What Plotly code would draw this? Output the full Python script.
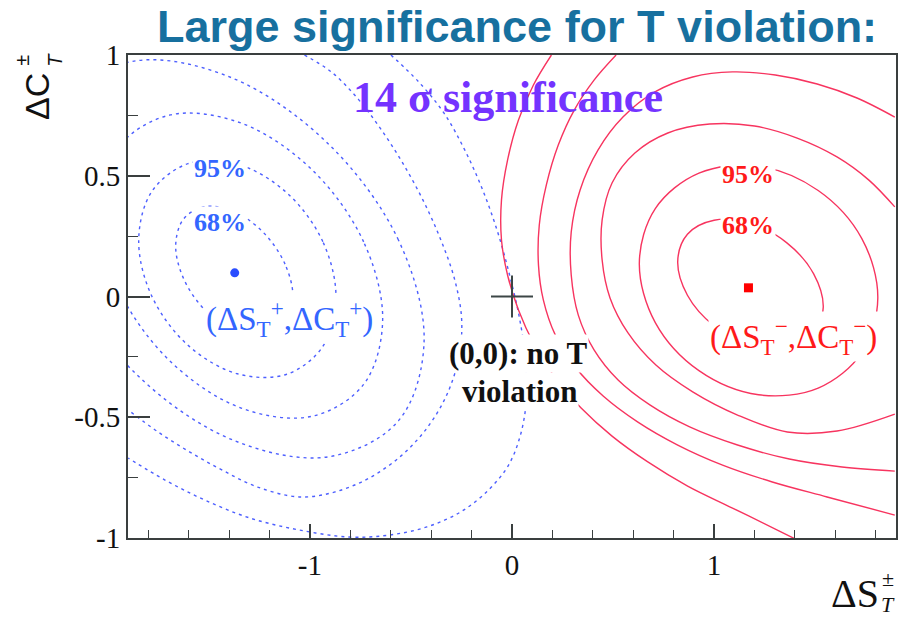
import plotly.graph_objects as go

# ---- axes -------------------------------------------------------------
X_RANGE = [-1.9, 1.9]
Y_RANGE = [-1.0, 1.0]
X_TICKS = [-1, 0, 1]
X_TICK_TEXT = ["-1", "0", "1"]
Y_TICKS = [-1, -0.5, 0, 0.5, 1]
Y_TICK_TEXT = ["-1", "-0.5", "0", "0.5", "1"]

# ---- best-fit points --------------------------------------------------
PLUS_FIT_X = [-1.372]
PLUS_FIT_Y = [0.098]
MINUS_FIT_X = [1.170]
MINUS_FIT_Y = [0.036]
NO_VIOLATION_X = [0.0]
NO_VIOLATION_Y = [0.0]

# ---- likelihood contours for (dS_T+, dC_T+), inner to outer -----------
PLUS_68_X = [-1.084, -1.123, -1.229, -1.374, -1.519, -1.625, -1.664, -1.625, -1.519, -1.374, -1.229, -1.123, -1.084]
PLUS_68_Y = [-0.004, 0.134, 0.264, 0.351, 0.372, 0.321, 0.212, 0.074, -0.056, -0.143, -0.164, -0.113, -0.004]
PLUS_95_X = [-0.871, -0.936, -1.115, -1.359, -1.603, -1.782, -1.847, -1.782, -1.603, -1.359, -1.115, -0.936, -0.871]
PLUS_95_Y = [-0.006, 0.227, 0.430, 0.548, 0.550, 0.435, 0.234, 0.001, -0.202, -0.320, -0.322, -0.207, -0.006]
PLUS_C3_X = [-0.640, -0.734, -0.990, -1.340, -1.690, -1.946, -2.040, -1.946, -1.690, -1.340, -0.990, -0.734, -0.640]
PLUS_C3_Y = [-0.100, 0.226, 0.525, 0.718, 0.752, 0.620, 0.356, 0.030, -0.269, -0.462, -0.496, -0.364, -0.100]
PLUS_C4_X = [-0.435, -0.562, -0.910, -1.385, -1.860, -2.208, -2.335, -2.208, -1.860, -1.385, -0.910, -0.562, -0.435]
PLUS_C4_Y = [-0.187, 0.234, 0.633, 0.905, 0.976, 0.827, 0.499, 0.078, -0.321, -0.593, -0.664, -0.515, -0.187]
PLUS_C5_X = [-1.027, -0.894, -0.766, -0.653, -0.544, -0.441, -0.352, -0.283, -0.249, -0.264, -0.323, -0.421,
             -0.549, -0.707, -0.879, -1.052, -1.259, -1.436, -1.594, -1.751, -1.899]
PLUS_C5_Y = [1.000, 0.930, 0.822, 0.698, 0.557, 0.400, 0.234, 0.068, -0.097, -0.255, -0.408, -0.545,
             -0.660, -0.752, -0.810, -0.830, -0.789, -0.718, -0.644, -0.561, -0.470]
PLUS_C6_X = [-0.599, -0.461, -0.337, -0.234, -0.145, -0.071, -0.012, 0.037, 0.067, 0.071, 0.042, -0.017,
             -0.116, -0.254, -0.421, -0.608, -0.805, -1.052, -1.298, -1.520, -1.717, -1.899]
PLUS_C6_Y = [1.000, 0.888, 0.760, 0.607, 0.441, 0.267, 0.089, -0.089, -0.263, -0.429, -0.573, -0.698,
             -0.801, -0.892, -0.954, -0.988, -0.996, -0.967, -0.917, -0.843, -0.760, -0.669]

# ---- likelihood contours for (dS_T-, dC_T-), inner to outer -----------
MINUS_68_X = [1.540, 1.492, 1.360, 1.180, 1.000, 0.868, 0.820, 0.868, 1.000, 1.180, 1.360, 1.492, 1.540]
MINUS_68_Y = [-0.045, 0.095, 0.222, 0.303, 0.316, 0.258, 0.145, 0.005, -0.122, -0.203, -0.216, -0.158, -0.045]
MINUS_95_X = [1.810, 1.731, 1.515, 1.220, 0.925, 0.709, 0.630, 0.709, 0.925, 1.220, 1.515, 1.731, 1.810]
MINUS_95_Y = [-0.006, 0.240, 0.439, 0.539, 0.511, 0.364, 0.138, -0.108, -0.307, -0.407, -0.379, -0.232, -0.006]
MINUS_C3_X = [1.894, 1.766, 1.608, 1.411, 1.200, 0.978, 0.771, 0.608, 0.495, 0.446, 0.446, 0.485, 0.574,
              0.712, 0.894, 1.116, 1.362, 1.608, 1.894]
MINUS_C3_Y = [0.371, 0.482, 0.578, 0.656, 0.706, 0.714, 0.677, 0.594, 0.470, 0.317, 0.151, -0.006, -0.151,
              -0.284, -0.395, -0.491, -0.561, -0.557, -0.487]
MINUS_C4_X = [1.894, 1.707, 1.510, 1.303, 1.091, 0.894, 0.707, 0.549, 0.426, 0.337, 0.293, 0.293, 0.328,
              0.406, 0.525, 0.682, 0.879, 1.116, 1.372, 1.633, 1.894]
MINUS_C4_Y = [0.743, 0.822, 0.880, 0.917, 0.930, 0.909, 0.847, 0.743, 0.607, 0.441, 0.267, 0.089, -0.077,
              -0.221, -0.346, -0.449, -0.540, -0.615, -0.673, -0.706, -0.723]
MINUS_C5_X = [0.515, 0.406, 0.308, 0.229, 0.170, 0.135, 0.131, 0.155, 0.214, 0.313, 0.451, 0.623, 0.820,
              1.042, 1.288, 1.559, 1.894]
MINUS_C5_Y = [1.000, 0.896, 0.772, 0.627, 0.462, 0.296, 0.130, -0.014, -0.159, -0.292, -0.412, -0.520,
              -0.615, -0.698, -0.768, -0.830, -0.905]
MINUS_C6_X = [0.195, 0.106, 0.032, -0.022, -0.052, -0.052, -0.022, 0.032, 0.111, 0.214, 0.342, 0.495,
              0.672, 0.869, 1.091, 1.313, 1.411]
MINUS_C6_Y = [1.000, 0.876, 0.731, 0.565, 0.400, 0.234, 0.089, -0.056, -0.201, -0.337, -0.462, -0.578,
              -0.685, -0.785, -0.876, -0.967, -1.008]

PLUS_CONTOURS = [(PLUS_68_X, PLUS_68_Y), (PLUS_95_X, PLUS_95_Y), (PLUS_C3_X, PLUS_C3_Y),
                 (PLUS_C4_X, PLUS_C4_Y), (PLUS_C5_X, PLUS_C5_Y), (PLUS_C6_X, PLUS_C6_Y)]
MINUS_CONTOURS = [(MINUS_68_X, MINUS_68_Y), (MINUS_95_X, MINUS_95_Y), (MINUS_C3_X, MINUS_C3_Y),
                  (MINUS_C4_X, MINUS_C4_Y), (MINUS_C5_X, MINUS_C5_Y), (MINUS_C6_X, MINUS_C6_Y)]

# ---- styling ----------------------------------------------------------
BLUE_LINE = "#4d5fff"
RED_LINE = "#f7345f"
BLUE_TEXT = "#3366ff"
RED_TEXT = "#ff1a1a"
TITLE_COLOR = "#17709f"
PURPLE = "#7433ff"
SERIF = "Liberation Serif, Times New Roman, serif"
SANS = "Liberation Sans, Arial, sans-serif"
AXIS_COLOR = "#3a3f3f"

fig = go.Figure()

for xs, ys in PLUS_CONTOURS:
    fig.add_trace(go.Scatter(
        x=xs, y=ys, mode="lines", hoverinfo="skip", showlegend=False,
        line=dict(color=BLUE_LINE, width=1.4, dash="3px,4px", shape="spline", smoothing=1.0)))

for xs, ys in MINUS_CONTOURS:
    fig.add_trace(go.Scatter(
        x=xs, y=ys, mode="lines", hoverinfo="skip", showlegend=False,
        line=dict(color=RED_LINE, width=1.4, shape="spline", smoothing=1.0)))

# best-fit markers and the no-violation point
fig.add_trace(go.Scatter(x=PLUS_FIT_X, y=PLUS_FIT_Y, mode="markers", showlegend=False,
                         marker=dict(symbol="circle", size=9, color="#2a4dff")))
fig.add_trace(go.Scatter(x=MINUS_FIT_X, y=MINUS_FIT_Y, mode="markers", showlegend=False,
                         marker=dict(symbol="square", size=9, color="#ff0000")))
fig.add_trace(go.Scatter(x=NO_VIOLATION_X, y=NO_VIOLATION_Y, mode="markers", showlegend=False,
                         marker=dict(symbol="cross-thin", size=30,
                                     line=dict(width=2, color="#3c4646"))))


def label(x, y, text, color, size, bg=True, family=SERIF):
    fig.add_annotation(x=x, y=y, xref="x", yref="y", text=text, showarrow=False,
                       xanchor="center", yanchor="middle",
                       font=dict(family=family, size=size, color=color),
                       bgcolor="white" if bg else None, borderpad=1)


label(-1.446, 0.532, "<b>95%</b>", BLUE_TEXT, 26)
label(-1.446, 0.308, "<b>68%</b>", BLUE_TEXT, 26)
label(-1.10, -0.092, "(ΔS<sub>T</sub><sup>+</sup>,ΔC<sub>T</sub><sup>+</sup>)", BLUE_TEXT, 33)
label(1.170, 0.507, "<b>95%</b>", RED_TEXT, 26)
label(1.170, 0.292, "<b>68%</b>", RED_TEXT, 26)
label(1.392, -0.164, "(ΔS<sub>T</sub><sup>−</sup>,ΔC<sub>T</sub><sup>−</sup>)", RED_TEXT, 33)
label(0.030, -0.238, "<b>(0,0): no T</b>", "#111111", 31)
label(0.035, -0.392, "<b>violation</b>", "#111111", 31)
label(-0.022, 0.826, "<b>14 σ significance</b>", PURPLE, 44, bg=False)


def paper_text(x, y, text, size, family, color="#111111", angle=0, xanchor="center", xshift=0):
    fig.add_annotation(x=x, y=y, xref="paper", yref="paper", showarrow=False, text=text,
                       textangle=angle, xanchor=xanchor, yanchor="middle", xshift=xshift,
                       font=dict(family=family, size=size, color=color))


# title and axis titles
paper_text(0.506, 1.058, "<b>Large significance for T violation:</b>", 45, SANS, TITLE_COLOR)
paper_text(0.9805, -0.114, "ΔS", 40, SERIF, xanchor="right")
paper_text(0.990, -0.083, "±", 22, SERIF)
paper_text(0.990, -0.137, "<i>T</i>", 22, SERIF)
# vertical title: ΔC with the ± / T indices stacked at its upper end
paper_text(0.0, 0.913, "ΔC", 34, SANS, angle=-90, xshift=-91)
paper_text(0.0, 0.988, "±", 20, SANS, angle=-90, xshift=-106)
paper_text(0.0, 0.990, "<i>T</i>", 20, SANS, angle=-90, xshift=-73)

axis_common = dict(showgrid=False, zeroline=False, showline=True, mirror=True,
                   linecolor=AXIS_COLOR, linewidth=2, ticks="inside", tickwidth=1.5,
                   tickcolor=AXIS_COLOR, tickmode="array",
                   tickfont=dict(family=SERIF, size=29, color="#111111"))

fig.update_xaxes(range=X_RANGE, tickvals=X_TICKS, ticktext=X_TICK_TEXT, ticklen=14,
                 minor=dict(tickmode="linear", tick0=0, dtick=0.2, ticks="inside",
                            ticklen=8, tickwidth=1.2, tickcolor=AXIS_COLOR),
                 **axis_common)
fig.update_yaxes(range=Y_RANGE, tickvals=Y_TICKS, ticktext=Y_TICK_TEXT, ticklen=22,
                 minor=dict(tickmode="linear", tick0=0, dtick=0.25, ticks="inside",
                            ticklen=10, tickwidth=1.2, tickcolor=AXIS_COLOR),
                 **axis_common)

fig.update_layout(width=909, height=618, margin=dict(l=128, r=11, t=55, b=80),
                  plot_bgcolor="white", paper_bgcolor="white", showlegend=False)

fig.write_html("out.html")
